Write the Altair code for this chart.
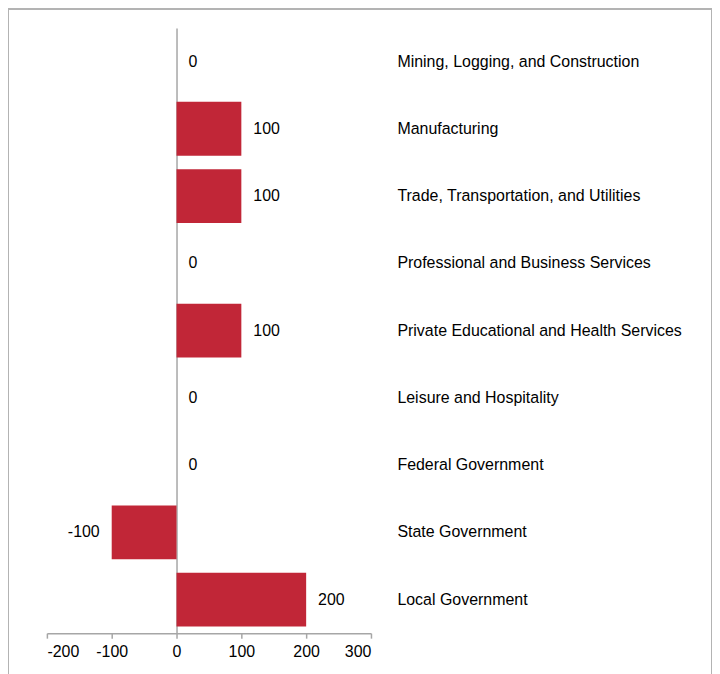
import altair as alt
import pandas as pd

categories = [
    "Mining, Logging, and Construction",
    "Manufacturing",
    "Trade, Transportation, and Utilities",
    "Professional and Business Services",
    "Private Educational and Health Services",
    "Leisure and Hospitality",
    "Federal Government",
    "State Government",
    "Local Government",
]
values = [0, 100, 100, 0, 100, 0, 0, -100, 200]
x_ticks = [-200, -100, 0, 100, 200, 300]

df = pd.DataFrame({"sector": categories, "change": values})

W, H = 706, 670
FONT = "Liberation Sans"
GRAY = "#a6a6a6"
RED = "#C12637"

x_scale = alt.Scale(domain=[-200, 300], range=[39, 364], nice=False, zero=False)
y_scale = alt.Scale(domain=categories, range=[19, 626], paddingInner=0.2, paddingOuter=0.1)

x_axis = alt.Axis(
    values=x_ticks, grid=False, title=None, offset=626 - H,
    domainColor=GRAY, domainWidth=1.5, tickColor=GRAY, tickWidth=1.5, tickSize=5,
    labelFontSize=16, labelFont=FONT, labelColor="black", labelPadding=5,
    labelExpr="'' + datum.value",
)

bars = alt.Chart(df).mark_bar(color=RED).encode(
    x=alt.X("change:Q", scale=x_scale, axis=x_axis),
    x2=alt.datum(0),
    y=alt.Y("sector:N", scale=y_scale, sort=categories,
            axis=alt.Axis(orient="right", offset=390 - W, labelPadding=0, ticks=False,
                          domain=False, labelAlign="left", labelFontSize=16, labelFont=FONT,
                          labelColor="black", title=None, labelLimit=400)),
)

pos = alt.Chart(df).transform_filter("datum.change >= 0").transform_calculate(
    lbl="'' + datum.change"
).mark_text(
    align="left", baseline="middle", dx=12, fontSize=16, font=FONT, color="black"
).encode(
    x=alt.X("change:Q", scale=x_scale, axis=x_axis),
    y=alt.Y("sector:N", scale=y_scale, sort=categories,
            axis=alt.Axis(orient="left", offset=-169, labels=False, ticks=False, domain=True,
                          domainColor=GRAY, domainWidth=1.5, title=None, grid=False)),
    text=alt.Text("lbl:N"),
)

neg = alt.Chart(df).transform_filter("datum.change < 0").transform_calculate(
    lbl="'' + datum.change"
).mark_text(
    align="right", baseline="middle", dx=-12, fontSize=16, font=FONT, color="black"
).encode(
    x=alt.X("change:Q", scale=x_scale, axis=x_axis),
    y=alt.Y("sector:N", scale=y_scale, sort=categories, axis=None),
    text=alt.Text("lbl:N"),
)

chart = alt.layer(bars, pos, neg).resolve_axis(y="independent").properties(
    width=W, height=H, autosize="none", padding=0
).configure_view(stroke="#b3b3b3", strokeWidth=2)

chart.save("out.html", embed_options={"renderer": "svg", "actions": False})
